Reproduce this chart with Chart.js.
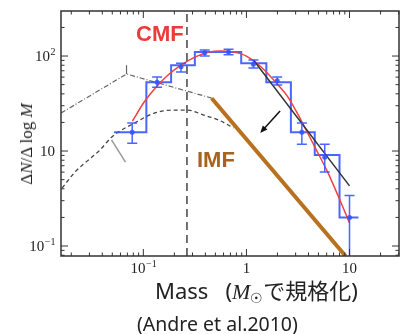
<!DOCTYPE html>
<html>
<head>
<meta charset="utf-8">
<script src="https://cdn.jsdelivr.net/npm/chart.js@4.4.0/dist/chart.umd.min.js"></script>
<style>
  body { margin: 0; background: #fff; }
  #wrap { position: relative; width: 403px; height: 334px; overflow: hidden; }
  #graph--cmf { position: absolute; left: 0; top: 0; }
  .txt { position: absolute; white-space: nowrap; line-height: 1; }
  #lbl-cmf { left: 136px; top: 21px; font: bold 22px "Liberation Sans", sans-serif; color: #ec3b3b; }
  #lbl-imf { left: 197px; top: 147px; font: bold 22px "Liberation Sans", sans-serif; color: #a8611f; }
  #ytitle { left: 27px; top: 144px; font: 17px "Liberation Serif", serif; color: #222;
            transform: translate(-50%, -50%) rotate(-90deg); }
  #xtitle { left: 155px; top: 273px; font: 22px "Noto Sans", sans-serif; color: #222; }
  #xtitle .unit { margin-left: 17px; }
  #xtitle i { font: italic 22px "Liberation Serif", serif; }
  #xtitle sub { font-size: 14px; vertical-align: -4px; line-height: 0; }
  #xtitle .jp { font-family: "Noto Sans CJK JP", sans-serif; }
  #credit { left: 137px; top: 310px; font: 19.5px "Noto Sans", sans-serif; color: #222; }
</style>
</head>
<body>
<div id="wrap">
  <canvas id="graph--cmf" width="403" height="334"></canvas>
  <div class="txt" id="lbl-cmf">CMF</div>
  <div class="txt" id="lbl-imf">IMF</div>
  <div class="txt" id="ytitle">Δ<i>N</i>/Δ log <i>M</i></div>
  <div class="txt" id="xtitle">Mass<span class="unit">(<i>M</i><sub>☉</sub><span class="jp">で規格化</span>)</span></div>
  <div class="txt" id="credit">(Andre et al.2010)</div>
</div>
<script>
// axis ranges (mass in solar masses, dN/dlogM)
const xRange = [0.0159, 30.2]
const yRange = [0.785, 298]

// tick labels: [base, exponent]
const xTickValues = [0.1, 1, 10]
const xTickLabels = [['10', '−1'], ['1', ''], ['10', '']]
const yTickValues = [1, 10, 100]
const yTickLabels = [['10', '−1'], ['10', ''], ['10', '2']]

// core histogram: left bin edges, counts (last entry closes the final bin)
const binEdges = [0.052, 0.107, 0.186, 0.316, 0.89, 1.56, 2.7, 4.6, 8.0, 12.2]
const binCounts = [15.8, 53, 80, 110, 84, 53, 15.8, 9.1, 2.0, 2.0]

// binned points with error bars
const pointMass = [0.078, 0.136, 0.232, 0.394, 0.671, 1.17, 1.99, 3.45, 5.75, 10]
const pointCount = [15.8, 53, 77, 108, 110, 82, 55, 15.8, 8.6, 2.0]
const errHigh = [19.7, 60, 84, 116, 118, 91, 60, 19.7, 11.8, 3.4]
const errLow = [12.1, 47, 68, 100, 103, 75, 49.5, 11.8, 6.0, 0.5]

// lognormal fit to the CMF
const cmfMass = [0.0784, 0.102, 0.136, 0.178, 0.232, 0.316, 0.431, 0.562, 0.75, 1.0, 1.39, 2.03, 2.53, 3.38, 4.61, 6.14, 7.84, 10]
const cmfCount = [20.7, 32.8, 48.3, 64.7, 80.3, 97.5, 110, 113, 110, 100, 76.6, 49.5, 37.0, 21.2, 11.0, 6.0, 3.28, 1.75]

// power-law tail of the CMF
const tailMass = [1.17, 10]
const tailCount = [90.8, 4.3]

// IMF (shifted)
const imfMass = [0.46, 9.15]
const imfCount = [36, 0.785]

// other reference curves
const dashDotMass = [0.0159, 0.0687, 0.46]
const dashDotCount = [25.1, 64.7, 36.1]
const kinkMass = [0.0687, 0.0687]
const kinkCount = [64.7, 80]
const dashedMass = [0.0163, 0.0217, 0.0271, 0.0378, 0.0492, 0.0819, 0.128, 0.199, 0.265, 0.386, 0.538, 0.75]
const dashedCount = [4.08, 6.0, 7.48, 10.2, 14.0, 19.7, 25.1, 27.0, 27.0, 23.9, 21.2, 17.5]
const greyMass = [0.0492, 0.0671]
const greyCount = [13.1, 7.66]

// completeness limit
const cutMass = 0.265

// arrow from tail fit towards the IMF
const arrowFrom = [2.12, 26.4]
const arrowTo = [1.36, 15.5]

const blue = 'rgba(55,85,255,0.9)'

const pairs = (xs, ys) => xs.map((v, i) => ({ x: v, y: ys[i] }))

const frameAndBars = {
  id: 'frameAndBars',
  afterDatasetsDraw(chart) {
    const { ctx, chartArea: a, scales: { x, y } } = chart
    ctx.save()
    ctx.beginPath()
    ctx.rect(a.left, a.top, a.right - a.left, a.bottom - a.top)
    ctx.clip()

    // error bars
    ctx.strokeStyle = blue
    ctx.lineWidth = 1.5
    pointMass.forEach((m, i) => {
      const px = x.getPixelForValue(m)
      const top = y.getPixelForValue(errHigh[i])
      const bot = y.getPixelForValue(errLow[i])
      ctx.beginPath()
      ctx.moveTo(px, top); ctx.lineTo(px, bot)
      ctx.moveTo(px - 5, top); ctx.lineTo(px + 5, top)
      ctx.moveTo(px - 5, bot); ctx.lineTo(px + 5, bot)
      ctx.stroke()
    })

    // arrow
    const x0 = x.getPixelForValue(arrowFrom[0]), y0 = y.getPixelForValue(arrowFrom[1])
    const x1 = x.getPixelForValue(arrowTo[0]), y1 = y.getPixelForValue(arrowTo[1])
    const ang = Math.atan2(y1 - y0, x1 - x0)
    ctx.strokeStyle = '#111'
    ctx.fillStyle = '#111'
    ctx.lineWidth = 1.5
    ctx.beginPath()
    ctx.moveTo(x0, y0)
    ctx.lineTo(x1 - 4 * Math.cos(ang), y1 - 4 * Math.sin(ang))
    ctx.stroke()
    ctx.beginPath()
    ctx.moveTo(x1, y1)
    ctx.lineTo(x1 - 8 * Math.cos(ang - 0.4), y1 - 8 * Math.sin(ang - 0.4))
    ctx.lineTo(x1 - 8 * Math.cos(ang + 0.4), y1 - 8 * Math.sin(ang + 0.4))
    ctx.closePath()
    ctx.fill()
    ctx.restore()

    // frame with inward ticks
    ctx.save()
    ctx.strokeStyle = '#333'
    ctx.lineWidth = 1.5
    ctx.strokeRect(a.left, a.top, a.right - a.left, a.bottom - a.top)
    ctx.lineWidth = 1
    ctx.beginPath()
    for (let k = -2; k <= 2; k++) {
      for (let d = 1; d <= 9; d++) {
        const v = d * Math.pow(10, k)
        const len = d === 1 ? 7 : 3.5
        if (v > xRange[0] && v < xRange[1]) {
          const px = x.getPixelForValue(v)
          ctx.moveTo(px, a.bottom); ctx.lineTo(px, a.bottom - len)
          ctx.moveTo(px, a.top); ctx.lineTo(px, a.top + len)
        }
        if (v > yRange[0] && v < yRange[1]) {
          const py = y.getPixelForValue(v)
          ctx.moveTo(a.left, py); ctx.lineTo(a.left + len, py)
          ctx.moveTo(a.right, py); ctx.lineTo(a.right - len, py)
        }
      }
    }
    ctx.stroke()

    // tick labels
    const base = '15px "Liberation Serif", serif'
    const sup = '10px "Liberation Serif", serif'
    ctx.fillStyle = '#222'
    ctx.textBaseline = 'alphabetic'
    const labelWidth = (lbl) => {
      ctx.font = base
      const w0 = ctx.measureText(lbl[0]).width
      ctx.font = sup
      return [w0, lbl[1] ? ctx.measureText(lbl[1]).width : 0]
    }
    const drawLabel = (lbl, left, baseline) => {
      const [w0] = labelWidth(lbl)
      ctx.font = base
      ctx.textAlign = 'left'
      ctx.fillText(lbl[0], left, baseline)
      if (lbl[1]) {
        ctx.font = sup
        ctx.fillText(lbl[1], left + w0 + 0.5, baseline - 6)
      }
    }
    xTickValues.forEach((v, i) => {
      const [w0, w1] = labelWidth(xTickLabels[i])
      const px = x.getPixelForValue(v)
      drawLabel(xTickLabels[i], px - (w0 + w1) / 2, a.bottom + 17)
    })
    yTickValues.forEach((v, i) => {
      const [w0, w1] = labelWidth(yTickLabels[i])
      const py = y.getPixelForValue(v)
      drawLabel(yTickLabels[i], a.left - 6 - w0 - w1, py + 5)
    })
    ctx.restore()
  }
}

const lineSet = (data, color, width, extra) => Object.assign({
  data, showLine: true, borderColor: color, borderWidth: width,
  pointRadius: 0, fill: false
}, extra || {})

const cmfChart = new Chart(document.querySelector('#graph--cmf'), {
  type: 'scatter',
  data: {
    datasets: [
      lineSet(pairs(pointMass, pointCount), blue, 0, { showLine: false, pointRadius: 2.5, backgroundColor: blue, pointBorderWidth: 0 }),
      lineSet(pairs(tailMass, tailCount), '#333', 1.5),
      lineSet(pairs(cmfMass, cmfCount), '#f04040', 1.5, { cubicInterpolationMode: 'monotone' }),
      lineSet(pairs(binEdges, binCounts), blue, 2, { stepped: 'before' }),
      lineSet(pairs(imfMass, imfCount), '#b8721f', 4),
      lineSet(pairs([cutMass, cutMass], yRange), '#444', 1.5, { borderDash: [8, 5] }),
      lineSet(pairs(dashDotMass, dashDotCount), '#666', 1.2, { borderDash: [5, 2, 1, 2] }),
      lineSet(pairs(kinkMass, kinkCount), '#666', 1.2),
      lineSet(pairs(dashedMass, dashedCount), '#444', 1.3, { borderDash: [4, 3], cubicInterpolationMode: 'monotone' }),
      lineSet(pairs(greyMass, greyCount), '#999', 1.5)
    ]
  },
  options: {
    responsive: false,
    animation: false,
    layout: { padding: { left: 61, top: 11, right: 1, bottom: 78 } },
    plugins: { legend: { display: false }, tooltip: { enabled: false } },
    scales: {
      x: {
        type: 'logarithmic', min: xRange[0], max: xRange[1],
        ticks: { display: false }, grid: { display: false, drawTicks: false }, border: { display: false }
      },
      y: {
        type: 'logarithmic', min: yRange[0], max: yRange[1],
        ticks: { display: false }, grid: { display: false, drawTicks: false }, border: { display: false }
      }
    }
  },
  plugins: [frameAndBars]
})
</script>
</body>
</html>
